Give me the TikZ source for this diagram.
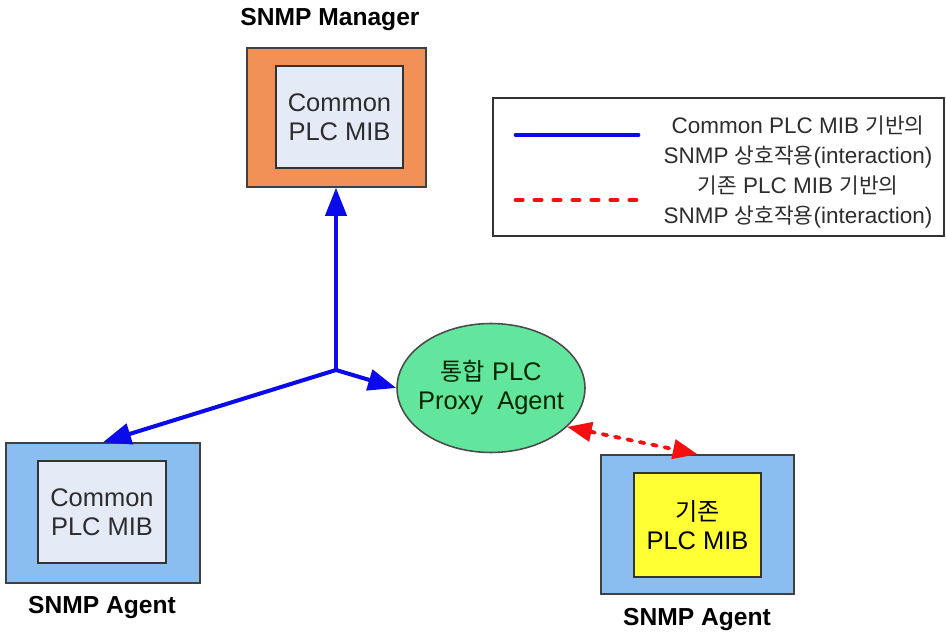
\documentclass[tikz,border=0pt]{standalone}
\usepackage{fontspec}
\setmainfont{Liberation Sans}
\newfontfamily\kr[Scale=0.95]{Noto Sans CJK KR}
\usetikzlibrary{arrows.meta,shapes.geometric}

\definecolor{mgrorange}{RGB}{242,145,87}
\definecolor{agentblue}{RGB}{138,190,240}
\definecolor{mibgray}{RGB}{229,235,246}
\definecolor{mibyellow}{RGB}{255,255,51}
\definecolor{proxygreen}{RGB}{98,230,158}
\definecolor{txtgray}{RGB}{45,45,45}
\definecolor{linkblue}{RGB}{10,10,235}
\definecolor{linkred}{RGB}{245,15,15}

\tikzset{
  hostbox/.style={draw=black!75,line width=0.9pt,inner sep=0pt},
  mibbox/.style={draw=black!80,line width=0.9pt,fill=mibgray,align=center,
    text=txtgray,font=\fontsize{14.5}{16.5}\selectfont,inner sep=0pt,
    minimum width=2.54cm},
  hostlabel/.style={font=\fontsize{14}{16}\selectfont\bfseries},
  bluelink/.style={linkblue,line width=2.3pt,-{Triangle[length=16pt,width=12pt]}},
  redlink/.style={linkred,line width=2.2pt,dash pattern=on 2.6pt off 4.6pt,line cap=round,
    {Triangle[length=14pt,width=11pt]}-{Triangle[length=14pt,width=11pt]}},
  legendtext/.style={align=center,text=txtgray,font=\fontsize{12.8}{17}\selectfont}
}

\begin{document}
\begin{tikzpicture}[x=0.02cm,y=-0.02cm]
\useasboundingbox (0,0) rectangle (946,634);

\node[hostbox,fill=mgrorange,minimum width=3.58cm,minimum height=2.78cm] (mgr) at (336.5,117.5) {};
\node[mibbox,minimum height=2.04cm] (mgrmib) at (339.5,117) {Common\\PLC MIB};
\node[hostlabel] (mgrlabel) at (330,20) {SNMP Manager};

\node[hostbox,fill=agentblue,minimum width=3.88cm,minimum height=2.8cm] (agentL) at (103,513) {};
\node[mibbox,minimum width=2.56cm,minimum height=2.04cm] (agentLmib) at (102,512) {Common\\PLC MIB};
\node[hostlabel] (agentLlabel) at (102,608) {SNMP Agent};

\node[hostbox,fill=agentblue,minimum width=3.86cm,minimum height=2.78cm] (agentR) at (697.5,524.5) {};
\node[mibbox,fill=mibyellow,text=black,minimum height=2.08cm] (agentRmib) at (697.5,525) {{\kr 기존}\\PLC MIB};
\node[hostlabel] (agentRlabel) at (697,620) {SNMP Agent};

\node[ellipse,draw=black!70,line width=0.9pt,fill=proxygreen,inner sep=0pt,
  minimum width=3.76cm,minimum height=2.58cm,
  label={[align=center,text=black!85!green,font=\fontsize{14.5}{16.5}\selectfont]center:{{\kr 통합} PLC\\Proxy\ \ Agent}}]
  (proxy) at (491,388) {};

\coordinate (hub) at (336,370);
\draw[bluelink] (hub) -- (hub |- mgr.south);
\draw[bluelink] (hub) -- (agentL.north);
\draw[bluelink] (hub) -- (proxy.west);
\draw[redlink] (proxy.-27) -- (agentR.north);

\node[draw=black!80,line width=1pt,minimum width=9.02cm,minimum height=2.76cm] (legend) at (718.5,167) {};
\coordinate (blueA) at (516,135);
\coordinate (blueB) at (638,135);
\coordinate (redA) at (516,200);
\coordinate (redB) at (638,200);
\draw[linkblue,line width=2.8pt,line cap=round] (blueA) -- (blueB);
\draw[linkred,line width=2.8pt,line cap=round,dash pattern=on 3.5pt off 7.3pt] (redA) -- (redB);
\node[legendtext] (legendblue) at (798,142) {Common PLC MIB {\kr 기반의}\\SNMP {\kr 상호작용}(interaction)};
\node[legendtext] (legendred) at (798,202) {{\kr 기존} PLC MIB {\kr 기반의}\\SNMP {\kr 상호작용}(interaction)};
\end{tikzpicture}
\end{document}
